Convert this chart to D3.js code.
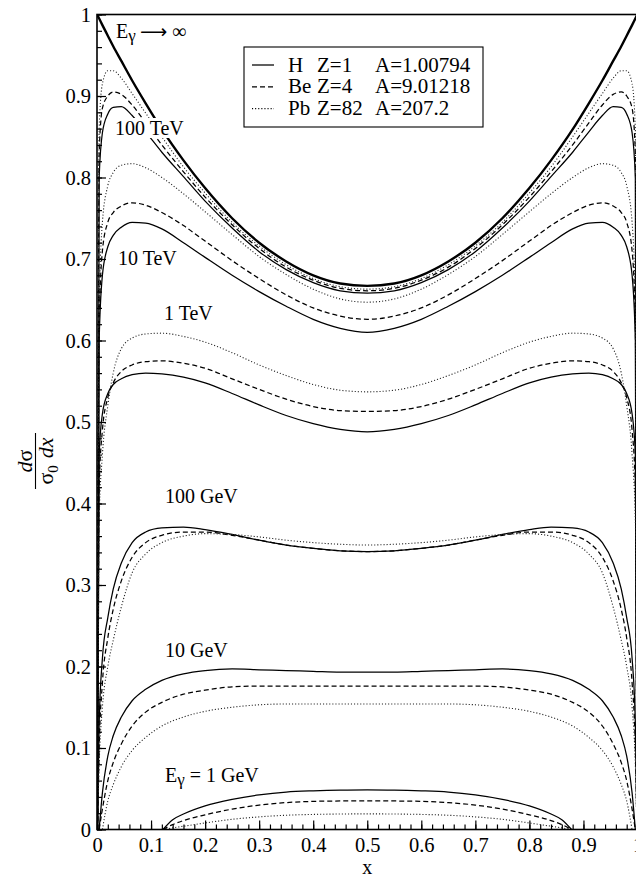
<!DOCTYPE html>
<html>
<head>
<meta charset="utf-8">
<script src="https://cdn.jsdelivr.net/npm/d3@7/dist/d3.min.js"></script>
<style>
  body { margin: 0; background: #fff; }
  svg text { font-family: "Liberation Serif", "DejaVu Serif", serif; fill: #000; }
</style>
</head>
<body>
<div id="main"></div>
<script>
// shared x grid for the curves (1 GeV has its own, it only exists between ~0.12 and ~0.88)
const xGrid = [0.001, 0.004, 0.01, 0.02, 0.03, 0.045, 0.065, 0.09, 0.12, 0.16, 0.2, 0.25, 0.3, 0.35, 0.4, 0.45, 0.5,
               0.55, 0.6, 0.65, 0.7, 0.75, 0.8, 0.84, 0.88, 0.91, 0.935, 0.955, 0.97, 0.98, 0.99, 0.996, 0.999];
const xGrid1GeV = [0.122, 0.14, 0.16, 0.2, 0.25, 0.3, 0.35, 0.4, 0.45, 0.5, 0.55, 0.6, 0.65, 0.7, 0.75, 0.8, 0.84, 0.86, 0.878];

// E -> infinity (complete screening)
const yInf = [0.999, 0.995, 0.987, 0.974, 0.961, 0.943, 0.919, 0.891, 0.859, 0.821, 0.787, 0.75, 0.72, 0.697, 0.68, 0.67, 0.667,
              0.67, 0.68, 0.697, 0.72, 0.75, 0.787, 0.821, 0.859, 0.891, 0.919, 0.943, 0.961, 0.974, 0.987, 0.995, 0.999];

// 100 TeV
const yH100TeV  = [0, 0.80, 0.855, 0.878, 0.886, 0.887, 0.876, 0.856, 0.831, 0.801, 0.771, 0.738, 0.709, 0.687, 0.671, 0.661, 0.658,
                   0.661, 0.671, 0.687, 0.709, 0.738, 0.771, 0.801, 0.831, 0.856, 0.876, 0.887, 0.886, 0.878, 0.855, 0.80, 0];
const yBe100TeV = [0, 0.83, 0.885, 0.9, 0.905, 0.902, 0.889, 0.867, 0.84, 0.807, 0.776, 0.742, 0.713, 0.69, 0.674, 0.664, 0.661,
                   0.664, 0.674, 0.69, 0.713, 0.742, 0.776, 0.807, 0.84, 0.867, 0.889, 0.902, 0.905, 0.9, 0.885, 0.83, 0];
const yPb100TeV = [0, 0.86, 0.915, 0.931, 0.931, 0.922, 0.903, 0.879, 0.85, 0.813, 0.781, 0.745, 0.716, 0.693, 0.676, 0.666, 0.663,
                   0.666, 0.676, 0.693, 0.716, 0.745, 0.781, 0.813, 0.85, 0.879, 0.903, 0.922, 0.931, 0.931, 0.915, 0.86, 0];

// 10 TeV
const yH10TeV  = [0, 0.6, 0.68, 0.715, 0.729, 0.739, 0.745, 0.744, 0.737, 0.72, 0.702, 0.68, 0.66, 0.642, 0.626, 0.615, 0.61,
                  0.615, 0.626, 0.642, 0.66, 0.68, 0.702, 0.72, 0.737, 0.744, 0.745, 0.739, 0.729, 0.715, 0.68, 0.6, 0];
const yBe10TeV = [0, 0.62, 0.71, 0.745, 0.757, 0.765, 0.769, 0.766, 0.757, 0.741, 0.722, 0.698, 0.676, 0.656, 0.64, 0.63, 0.626,
                  0.63, 0.64, 0.656, 0.676, 0.698, 0.722, 0.741, 0.757, 0.766, 0.769, 0.765, 0.757, 0.745, 0.71, 0.62, 0];
const yPb10TeV = [0, 0.64, 0.745, 0.79, 0.806, 0.815, 0.817, 0.812, 0.8, 0.78, 0.758, 0.73, 0.703, 0.681, 0.663, 0.651, 0.647,
                  0.651, 0.663, 0.681, 0.703, 0.73, 0.758, 0.78, 0.8, 0.812, 0.817, 0.815, 0.806, 0.79, 0.745, 0.64, 0];

// 1 TeV
const yH1TeV  = [0, 0.46, 0.51, 0.535, 0.546, 0.553, 0.558, 0.56, 0.559, 0.555, 0.548, 0.535, 0.521, 0.508, 0.498, 0.491, 0.488,
                 0.491, 0.498, 0.508, 0.521, 0.535, 0.548, 0.555, 0.559, 0.56, 0.558, 0.553, 0.546, 0.535, 0.51, 0.46, 0];
const yBe1TeV = [0, 0.42, 0.49, 0.53, 0.548, 0.562, 0.57, 0.574, 0.575, 0.572, 0.566, 0.553, 0.54, 0.528, 0.519, 0.514, 0.513,
                 0.514, 0.519, 0.528, 0.54, 0.553, 0.566, 0.572, 0.575, 0.574, 0.57, 0.562, 0.548, 0.53, 0.49, 0.42, 0];
const yPb1TeV = [0, 0.38, 0.46, 0.52, 0.56, 0.59, 0.603, 0.608, 0.609, 0.605, 0.598, 0.585, 0.57, 0.557, 0.546, 0.539, 0.537,
                 0.539, 0.546, 0.557, 0.57, 0.585, 0.598, 0.605, 0.609, 0.608, 0.603, 0.59, 0.56, 0.52, 0.46, 0.38, 0];

// 100 GeV
const yH100GeV  = [0, 0.13, 0.21, 0.26, 0.295, 0.327, 0.352, 0.365, 0.37, 0.371, 0.368, 0.362, 0.355, 0.349, 0.345, 0.342, 0.341,
                   0.342, 0.345, 0.349, 0.355, 0.362, 0.368, 0.371, 0.37, 0.365, 0.352, 0.327, 0.295, 0.26, 0.21, 0.13, 0];
const yBe100GeV = [0, 0.1, 0.18, 0.235, 0.27, 0.305, 0.334, 0.352, 0.361, 0.365, 0.365, 0.361, 0.355, 0.349, 0.345, 0.342, 0.341,
                   0.342, 0.345, 0.349, 0.355, 0.361, 0.365, 0.365, 0.361, 0.352, 0.334, 0.305, 0.27, 0.235, 0.18, 0.1, 0];
const yPb100GeV = [0, 0.08, 0.15, 0.2, 0.232, 0.273, 0.315, 0.338, 0.352, 0.36, 0.363, 0.362, 0.359, 0.355, 0.352, 0.35, 0.349,
                   0.35, 0.352, 0.355, 0.359, 0.362, 0.363, 0.36, 0.352, 0.338, 0.315, 0.273, 0.232, 0.2, 0.15, 0.08, 0];

// 10 GeV
const yH10GeV  = [null, 0, 0.045, 0.09, 0.115, 0.138, 0.158, 0.172, 0.183, 0.191, 0.195, 0.197, 0.196, 0.195, 0.194, 0.193, 0.193,
                  0.193, 0.194, 0.195, 0.196, 0.197, 0.195, 0.191, 0.183, 0.172, 0.158, 0.138, 0.115, 0.09, 0.045, 0, null];
const yBe10GeV = [null, 0, 0.025, 0.06, 0.082, 0.105, 0.127, 0.144, 0.156, 0.166, 0.171, 0.175, 0.176, 0.176, 0.176, 0.176, 0.176,
                  0.176, 0.176, 0.176, 0.176, 0.175, 0.171, 0.166, 0.156, 0.144, 0.127, 0.105, 0.082, 0.06, 0.025, 0, null];
const yPb10GeV = [null, null, 0, 0.035, 0.055, 0.077, 0.097, 0.113, 0.127, 0.138, 0.145, 0.15, 0.153, 0.154, 0.154, 0.154, 0.154,
                  0.154, 0.154, 0.154, 0.153, 0.15, 0.145, 0.138, 0.127, 0.113, 0.097, 0.077, 0.055, 0.035, 0, null, null];

// 1 GeV
const yH1GeV  = [0, 0.012, 0.019, 0.029, 0.037, 0.0425, 0.046, 0.0475, 0.0483, 0.0485, 0.0483, 0.0475, 0.046, 0.0425, 0.037, 0.029, 0.019, 0.012, 0];
const yBe1GeV = [0, 0.006, 0.011, 0.018, 0.025, 0.03, 0.033, 0.0345, 0.035, 0.0352, 0.035, 0.0345, 0.033, 0.03, 0.025, 0.018, 0.011, 0.006, 0];
const yPb1GeV = [0, 0.002, 0.004, 0.008, 0.0125, 0.0155, 0.0175, 0.0185, 0.019, 0.0192, 0.019, 0.0185, 0.0175, 0.0155, 0.0125, 0.008, 0.004, 0.002, 0];

// axis ticks
const xTickValues = [0, 0.1, 0.2, 0.3, 0.4, 0.5, 0.6, 0.7, 0.8, 0.9, 1];
const xTickLabels = ['0', '0.1', '0.2', '0.3', '0.4', '0.5', '0.6', '0.7', '0.8', '0.9', '1'];
const yTickValues = [0, 0.1, 0.2, 0.3, 0.4, 0.5, 0.6, 0.7, 0.8, 0.9, 1];
const yTickLabels = ['0', '0.1', '0.2', '0.3', '0.4', '0.5', '0.6', '0.7', '0.8', '0.9', '1'];

// legend
const elements = ['H', 'Be', 'Pb'];
const elementZ = ['Z=1', 'Z=4', 'Z=82'];
const elementA = ['A=1.00794', 'A=9.01218', 'A=207.2'];

// energy labels (the E-gamma prefix and the infinity label are built when drawn)
const energyLabels = ['\u221E', '100 TeV', '10 TeV', '1 TeV', '100 GeV', '10 GeV', '= 1 GeV'];
const energyHasGamma = [true, false, false, false, false, false, true];

// ---------------------------------------------------------------
const svgWidth = 636;
const svgHeight = 879;
const serif = '"Liberation Serif", "DejaVu Serif", serif';
const dashes = { solid: null, dashed: '5,3', dotted: '1.1,2' };
const labelPos = [[116, 38], [115, 135], [118, 265], [164, 320], [165, 503], [165, 657], [165, 782]];

const svg = d3.select('#main')
    .append('svg')
    .attr('width', svgWidth)
    .attr('height', svgHeight)
    .attr('font-family', serif);

const xScale = d3.scaleLinear().domain([0, 1]).range([97, 637.5]);
const yScale = d3.scaleLinear().domain([0, 1]).range([829.5, 14.5]);

svg.append('clipPath').attr('id', 'plot-clip')
    .append('rect')
    .attr('x', xScale(0)).attr('y', yScale(1))
    .attr('width', xScale(1) - xScale(0)).attr('height', yScale(0) - yScale(1));

// curves
const series = [
    { xs: xGrid, ys: yH100TeV, style: 'solid' },
    { xs: xGrid, ys: yBe100TeV, style: 'dashed' },
    { xs: xGrid, ys: yPb100TeV, style: 'dotted' },
    { xs: xGrid, ys: yH10TeV, style: 'solid' },
    { xs: xGrid, ys: yBe10TeV, style: 'dashed' },
    { xs: xGrid, ys: yPb10TeV, style: 'dotted' },
    { xs: xGrid, ys: yH1TeV, style: 'solid' },
    { xs: xGrid, ys: yBe1TeV, style: 'dashed' },
    { xs: xGrid, ys: yPb1TeV, style: 'dotted' },
    { xs: xGrid, ys: yH100GeV, style: 'solid' },
    { xs: xGrid, ys: yBe100GeV, style: 'dashed' },
    { xs: xGrid, ys: yPb100GeV, style: 'dotted' },
    { xs: xGrid, ys: yH10GeV, style: 'solid' },
    { xs: xGrid, ys: yBe10GeV, style: 'dashed' },
    { xs: xGrid, ys: yPb10GeV, style: 'dotted' },
    { xs: xGrid1GeV, ys: yH1GeV, style: 'solid' },
    { xs: xGrid1GeV, ys: yBe1GeV, style: 'dashed' },
    { xs: xGrid1GeV, ys: yPb1GeV, style: 'dotted' },
    { xs: xGrid, ys: yInf, style: 'thick' }
];

const line = d3.line()
    .defined(d => d[1] !== null)
    .x(d => xScale(d[0]))
    .y(d => yScale(d[1]))
    .curve(d3.curveMonotoneX);

svg.append('g')
    .attr('clip-path', 'url(#plot-clip)')
    .selectAll('path')
    .data(series)
    .enter()
    .append('path')
    .attr('fill', 'none')
    .attr('stroke', d => d.style === 'dotted' ? '#222' : '#000')
    .attr('stroke-width', d => d.style === 'thick' ? 2.4 : (d.style === 'dotted' ? 1.1 : 1.25))
    .attr('stroke-dasharray', d => dashes[d.style] || null)
    .attr('d', d => line(d.xs.map((x, i) => [x, d.ys[i]])));

// energy labels, on white so the 100 TeV one breaks the curves behind it
energyLabels.forEach((label, i) => {
    const g = svg.append('g');
    const t = g.append('text')
        .attr('x', labelPos[i][0])
        .attr('y', labelPos[i][1])
        .attr('font-size', 20);
    if (i === 0) {
        t.append('tspan').text('E');
        t.append('tspan').attr('font-size', 17).attr('dy', 3).text('\u03B3');
        t.append('tspan').attr('dy', -3).attr('x', 140)
            .style('font-family', '"DejaVu Sans", sans-serif')
            .attr('font-size', 19)
            .text('\u27F6');
        t.append('tspan').attr('x', 172).text(label);
    } else if (energyHasGamma[i]) {
        t.append('tspan').text('E');
        t.append('tspan').attr('font-size', 17).attr('dy', 3).text('\u03B3');
        t.append('tspan').attr('dy', -3).text(' ' + label);
    } else {
        t.text(label);
    }
    const bb = t.node().getBBox();
    g.insert('rect', 'text')
        .attr('x', bb.x - 1).attr('y', bb.y + 1)
        .attr('width', bb.width + 2).attr('height', bb.height - 2)
        .attr('fill', '#fff');
});

// axes
const xAxis = svg.append('g')
    .attr('transform', `translate(0, ${yScale(0)})`)
    .call(d3.axisBottom(xScale)
        .tickValues(xTickValues)
        .tickSize(-9)
        .tickPadding(8)
        .tickFormat((d, i) => xTickLabels[i]));
const xMinor = svg.append('g')
    .attr('transform', `translate(0, ${yScale(0)})`)
    .call(d3.axisBottom(xScale).ticks(50).tickSize(-5).tickFormat(''));
const yAxis = svg.append('g')
    .attr('transform', `translate(${xScale(0)}, 0)`)
    .call(d3.axisLeft(yScale)
        .tickValues(yTickValues)
        .tickSize(-9)
        .tickPadding(6)
        .tickFormat((d, i) => yTickLabels[i]));
const yMinor = svg.append('g')
    .attr('transform', `translate(${xScale(0)}, 0)`)
    .call(d3.axisLeft(yScale).ticks(50).tickSize(-5).tickFormat(''));

[xAxis, xMinor, yAxis, yMinor].forEach(a => {
    a.attr('font-family', serif).attr('font-size', 20.5);
    a.select('.domain').remove();
    a.selectAll('.tick line').attr('stroke', '#000').attr('stroke-width', 1.2);
});
yAxis.selectAll('.tick text').attr('dy', '0.34em');

// frame
svg.append('rect')
    .attr('x', xScale(0)).attr('y', yScale(1))
    .attr('width', xScale(1) - xScale(0)).attr('height', yScale(0) - yScale(1))
    .attr('fill', 'none')
    .attr('stroke', '#000')
    .attr('stroke-width', 1.6);

// axis titles
svg.append('text')
    .attr('x', xScale(0.5)).attr('y', 874)
    .attr('text-anchor', 'middle')
    .attr('font-size', 20)
    .text('x');

const yTitle = svg.append('g').attr('transform', 'translate(35.5, 461) rotate(-90)');
const num = yTitle.append('text').attr('text-anchor', 'middle').attr('y', -4).attr('font-size', 22);
num.append('tspan').attr('font-style', 'italic').text('d');
num.append('tspan').text('\u03C3');
yTitle.append('line')
    .attr('x1', -28).attr('x2', 28)
    .attr('stroke', '#000').attr('stroke-width', 1.1);
const den = yTitle.append('text').attr('text-anchor', 'middle').attr('y', 17).attr('font-size', 22);
den.append('tspan').text('\u03C3');
den.append('tspan').attr('font-size', 15).attr('dy', 5).text('0');
den.append('tspan').attr('dy', -5).attr('dx', 7).attr('font-style', 'italic').text('dx');

// legend
const legend = svg.append('g');
legend.append('rect')
    .attr('x', 244).attr('y', 47)
    .attr('width', 239).attr('height', 80)
    .attr('fill', '#fff')
    .attr('stroke', '#000')
    .attr('stroke-width', 1.1);
const legendStyles = ['solid', 'dashed', 'dotted'];
elements.forEach((el, i) => {
    const yBase = 71.5 + i * 21.8;
    legend.append('line')
        .attr('x1', 252).attr('x2', 274)
        .attr('y1', yBase - 6.5).attr('y2', yBase - 6.5)
        .attr('stroke', '#000')
        .attr('stroke-width', legendStyles[i] === 'dotted' ? 1.1 : 1.25)
        .attr('stroke-dasharray', dashes[legendStyles[i]]);
    const t = legend.append('text').attr('y', yBase).attr('font-size', 21);
    t.append('tspan').attr('x', 288).text(el);
    t.append('tspan').attr('x', 317).text(elementZ[i]);
    t.append('tspan').attr('x', 375).text(elementA[i]);
});
</script>
</body>
</html>
